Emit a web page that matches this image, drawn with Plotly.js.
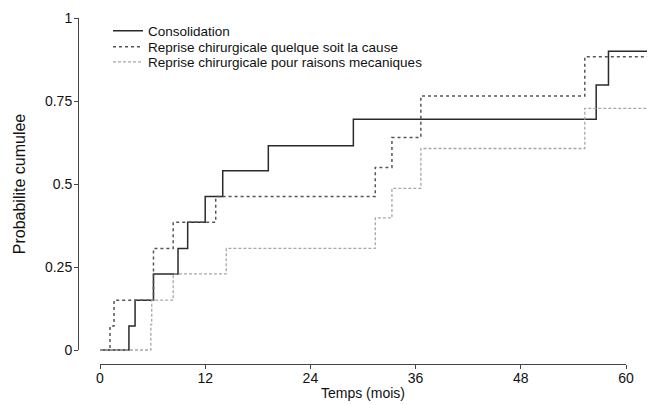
<!DOCTYPE html>
<html>
<head>
<meta charset="utf-8">
<script src="https://cdn.plot.ly/plotly-3.0.1.min.js"></script>
<style>html,body{margin:0;padding:0;background:#fff;}#chart{width:650px;height:405px;}</style>
</head>
<body>
<div id="chart"></div>
<script>
// Step-function data (time in months, cumulative probability)
var consolidationTime = [0, 3.3, 4.0, 6.1, 8.9, 10.0, 12.0, 14.0, 19.2, 28.9, 56.6, 58.0, 62.4];
var consolidationProb = [0, 0.072, 0.15, 0.229, 0.306, 0.385, 0.462, 0.54, 0.615, 0.695, 0.798, 0.90, 0.90];

var repriseTime = [0, 1.14, 1.6, 6.1, 8.35, 13.2, 31.4, 33.3, 36.6, 55.3, 62.4];
var repriseProb = [0, 0.072, 0.15, 0.306, 0.385, 0.462, 0.55, 0.64, 0.765, 0.883, 0.883];

var mecaTime = [0, 5.8, 5.9, 8.35, 14.4, 31.4, 33.3, 36.6, 55.3, 62.4];
var mecaProb = [0, 0.077, 0.15, 0.229, 0.306, 0.398, 0.487, 0.607, 0.728, 0.728];

var seriesNames = ["Consolidation",
                   "Reprise chirurgicale quelque soit la cause",
                   "Reprise chirurgicale pour raisons mecaniques"];
var xTicks = [0, 12, 24, 36, 48, 60];
var yTicks = [0, 0.25, 0.5, 0.75, 1];
var yTickLabels = ["0", "0.25", "0.5", "0.75", "1"];

var FONT = "Liberation Sans, Arial, Helvetica, sans-serif";

var traces = [
  {x: consolidationTime, y: consolidationProb, name: seriesNames[0], type: "scatter", mode: "lines",
   line: {shape: "hv", color: "#2a2a2a", width: 1.5, dash: "solid"}, legend: "legend", hoverinfo: "skip"},
  {x: repriseTime, y: repriseProb, name: seriesNames[1], type: "scatter", mode: "lines",
   line: {shape: "hv", color: "#555555", width: 1.5, dash: "dot"}, legend: "legend2", hoverinfo: "skip"},
  {x: mecaTime, y: mecaProb, name: seriesNames[2], type: "scatter", mode: "lines",
   line: {shape: "hv", color: "#a8a8a8", width: 1.3, dash: "3px,2px"}, legend: "legend3", hoverinfo: "skip"},
  {x: [], y: [], xaxis: "x2", yaxis: "y2", showlegend: false, type: "scatter", mode: "lines", hoverinfo: "skip"}
];

// paper: x px 78..648, y px 18..364
var PL = 78, PR = 648, PT = 18, PB = 364;
var pw = PR - PL, ph = PB - PT;
var x0px = 100, x60px = 626, y0px = 350, y1px = 18;
var pxPerMonth = (x60px - x0px) / 60;
var pxPerUnit = (y0px - y1px);

var legendCommon = {bgcolor: "rgba(0,0,0,0)", borderwidth: 0, font: {family: FONT, size: 13.5, color: "#111"},
                    xanchor: "left", yanchor: "middle"};
function legendAt(py) {
  var o = Object.assign({}, legendCommon);
  o.x = (108 - PL) / pw;
  o.y = (PB - py) / ph;
  return o;
}

var layout = {
  width: 650, height: 405,
  margin: {l: PL, r: 650 - PR, t: PT, b: 405 - PB, pad: 0},
  paper_bgcolor: "#ffffff", plot_bgcolor: "rgba(0,0,0,0)",
  font: {family: FONT, size: 14, color: "#111"},
  xaxis: {visible: false, domain: [0, 1],
          range: [(PL - x0px) / pxPerMonth, (PR - x0px) / pxPerMonth], fixedrange: true},
  yaxis: {visible: false, domain: [0, 1],
          range: [(y0px - PB) / pxPerUnit, (y0px - PT) / pxPerUnit], fixedrange: true},
  xaxis2: {anchor: "free", position: 0, domain: [(x0px - PL) / pw, (x60px - PL) / pw],
           range: [0, 60], tickvals: xTicks, ticktext: xTicks.map(String),
           showline: true, linecolor: "#444", linewidth: 1, ticks: "outside", ticklen: 4,
           tickcolor: "#444", showgrid: false, zeroline: false, ticklabelstandoff: -3,
           tickfont: {family: FONT, size: 14, color: "#111"},
           title: {text: "Temps (mois)", font: {family: FONT, size: 14, color: "#111"}, standoff: 3}},
  yaxis2: {anchor: "free", position: 0, domain: [(PB - y0px) / ph, (PB - y1px) / ph],
           range: [0, 1], tickvals: yTicks, ticktext: yTickLabels,
           showline: true, linecolor: "#444", linewidth: 1, ticks: "outside", ticklen: 4,
           tickcolor: "#444", showgrid: false, zeroline: false, ticklabelstandoff: -1,
           tickfont: {family: FONT, size: 14, color: "#111"},
           title: {text: "Probabilite cumulee", font: {family: FONT, size: 16, color: "#111"}, standoff: 14}},
  legend: legendAt(31),
  legend2: legendAt(47),
  legend3: legendAt(62),
  showlegend: true
};

Plotly.newPlot("chart", traces, layout, {staticPlot: true, displayModeBar: false});
</script>
</body>
</html>
